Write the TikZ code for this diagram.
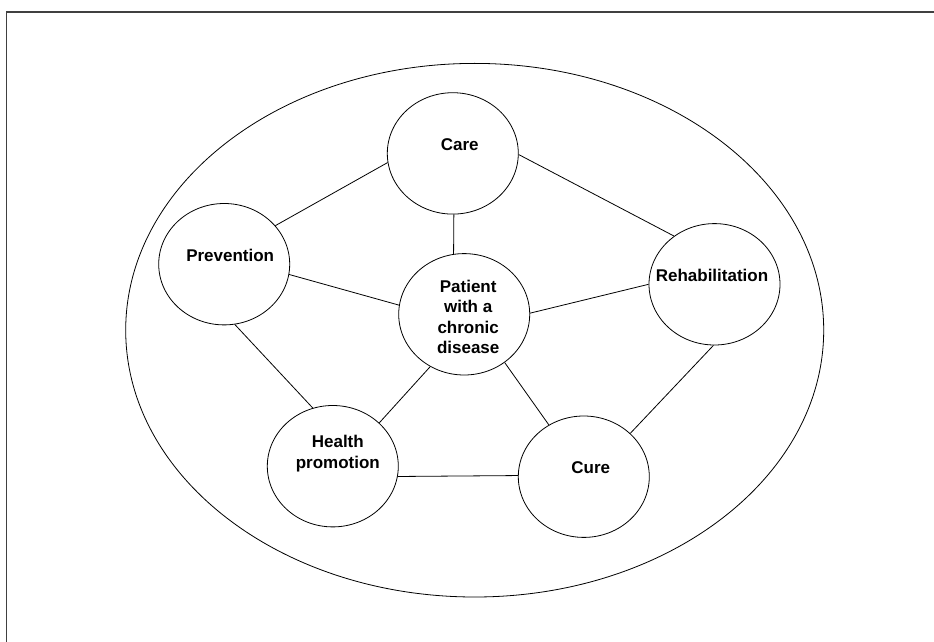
\documentclass[tikz,border=0pt]{standalone}
\usepackage{fontspec}
\setsansfont{Liberation Sans}
\usetikzlibrary{shapes.geometric}

\begin{document}
\begin{tikzpicture}[x=1pt, y=1pt, line width=0.8pt,
  bubble/.style={draw, ellipse, minimum width=131, minimum height=121.4, inner sep=0pt},
  every node/.style={font=\sffamily\bfseries\fontsize{17}{20.5}\selectfont, align=center}]
\useasboundingbox (0,0) rectangle (934,641);
\clip (0,0) rectangle (934,641);
% page frame, only top and left edge show
\draw[line width=1.6pt, black!75] (6.5,-10) |- (950,629);
% outer field
\draw (474.7,310.8) ellipse [x radius=349, y radius=266.8];
% bubbles: name/x/y/text shift/text
\foreach \n/\x/\y/\sx/\sy/\txt in {care/452.8/487.6/7/9/Care, prev/224.2/376.8/6/9/Prevention, patient/464.2/326.7/4/-2.5/{Patient\\with a\\chronic\\disease}, rehab/714.5/356.7/-2.5/9.3/Rehabilitation, health/332.8/174.8/5/12.5/{Health\\promotion}, cure/583.8/164.3/7/9.4/Cure} {
  \node[bubble] (\n) at (\x,\y) {};
  \node (\n-txt) at (\x+\sx,\y+\sy) {\txt};
}
% links between bubbles
\foreach \a/\b in {prev.37/care.188, care.359/rehab.130, care.271/patient.100, prev.351/patient.172, patient.1/rehab.180, patient.237/health.43, patient.310/cure.124, prev.280/health.109, rehab.269/cure.43, health.351/cure.179}
  \draw (\a) -- (\b);
\end{tikzpicture}
\end{document}
